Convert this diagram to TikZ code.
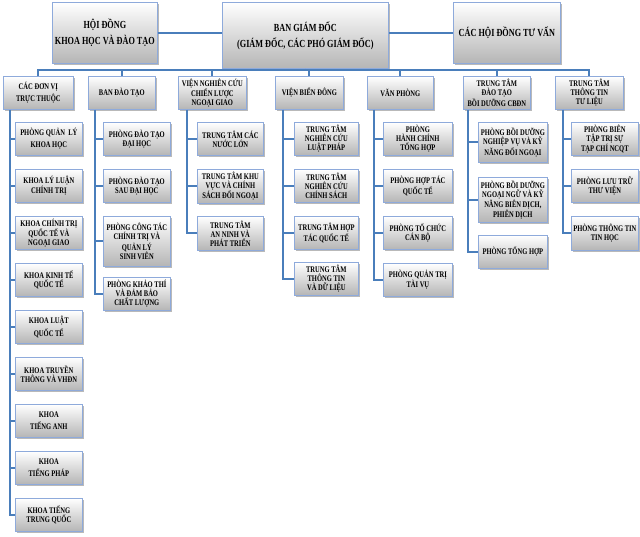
\documentclass[tikz,border=0pt]{standalone}
\usepackage{fontspec}
\newfontfamily\cond{Liberation Serif}[FakeStretch=0.76]
\usetikzlibrary{shadows}
\definecolor{conncol}{HTML}{4A7EBB}
\definecolor{bordcol}{HTML}{8EAADB}
\definecolor{boxbot}{HTML}{B5B5B5}
\tikzset{
  obox/.style={draw=bordcol, line width=0.7pt, top color=white, bottom color=boxbot,
    drop shadow={opacity=0.55, shadow xshift=1.6pt, shadow yshift=-1.6pt},
    align=center, anchor=north west, inner sep=0.5pt,
    font=\cond\bfseries\fontsize{8.6}{9}\selectfont},
  topf/.style={font=\cond\bfseries\fontsize{10.8}{16}\selectfont},
  wide/.style={font=\cond\bfseries\fontsize{8.6}{12.5}\selectfont},
  conn/.style={draw=conncol, line width=1.9pt},
}
\newcommand\obx[6][]{\node[obox,#1,minimum width=#4pt,minimum height=#5pt] (#2) at (#3) {#6};}
\begin{document}
\begin{tikzpicture}[x=1pt,y=-1pt]
\fill[white] (0,0) rectangle (640,536);
\useasboundingbox (0,0) rectangle (640,536);
% top row
\obx[topf]{hd}{52,2}{105}{61}{HỘI ĐỒNG\\KHOA HỌC VÀ ĐÀO TẠO}
\obx[topf]{bgd}{222,2}{166}{66}{BAN GIÁM ĐỐC\\(GIÁM ĐỐC, CÁC PHÓ GIÁM ĐỐC)}
\obx[topf]{tv}{453,2}{107}{61}{CÁC HỘI ĐỒNG TƯ VẤN}
% second row
\obx[wide]{p1}{3,76}{70}{33}{CÁC ĐƠN VỊ\\TRỰC THUỘC}
\obx{p2}{88,76}{67}{33}{BAN ĐÀO TẠO}
\obx{p3}{178,76}{68}{33}{VIỆN NGHIÊN CỨU\\CHIẾN LƯỢC\\NGOẠI GIAO}
\obx{p4}{275,76}{68}{33}{VIỆN BIỂN ĐÔNG}
\obx{p5}{367,76}{66}{33}{VĂN PHÒNG}
\obx{p6}{463,76}{67}{33}{TRUNG TÂM\\ĐÀO TẠO\\BỒI DƯỠNG CBĐN}
\obx{p7}{555,76}{68}{33}{TRUNG TÂM\\THÔNG TIN\\TƯ LIỆU}
% column 1
\obx[wide]{a1}{15,122}{67}{33}{PHÒNG QUẢN\ \ LÝ\\KHOA HỌC}
\obx{a2}{15,169}{67}{33}{KHOA LÝ LUẬN\\CHÍNH TRỊ}
\obx{a3}{15,216}{67}{33}{KHOA CHÍNH TRỊ\\QUỐC TẾ VÀ\\NGOẠI GIAO}
\obx{a4}{15,263}{67}{33}{KHOA KINH TẾ\\QUỐC TẾ}
\obx[wide]{a5}{15,310}{67}{33}{KHOA LUẬT\\QUỐC TẾ}
\obx{a6}{15,357}{67}{33}{KHOA TRUYỀN\\THÔNG VÀ VHĐN}
\obx[wide]{a7}{15,404}{67}{33}{KHOA\\TIẾNG ANH}
\obx[wide]{a8}{15,451}{67}{33}{KHOA\\TIẾNG PHÁP}
\obx{a9}{15,498}{67}{33}{KHOA TIẾNG\\TRUNG QUỐC}
% column 2
\obx{b1}{103,122}{67}{33}{PHÒNG ĐÀO TẠO\\ĐẠI HỌC}
\obx{b2}{103,169}{67}{33}{PHÒNG ĐÀO TẠO\\SAU ĐẠI HỌC}
\obx{b3}{103,216}{67}{50}{PHÒNG CÔNG TÁC\\CHÍNH TRỊ VÀ\\QUẢN LÝ\\SINH VIÊN}
\obx{b4}{103,277}{67}{33}{PHÒNG KHẢO THÍ\\VÀ ĐẢM BẢO\\CHẤT LƯỢNG}
% column 3
\obx{c1}{197,122}{66}{33}{TRUNG TÂM CÁC\\NƯỚC LỚN}
\obx{c2}{197,169}{66}{34}{TRUNG TÂM KHU\\VỰC VÀ CHÍNH\\SÁCH ĐỐI NGOẠI}
\obx{c3}{197,216}{66}{34}{TRUNG TÂM\\AN NINH VÀ\\PHÁT TRIỂN}
% column 4
\obx{d1}{294,122}{64}{33}{TRUNG TÂM\\NGHIÊN CỨU\\LUẬT PHÁP}
\obx{d2}{294,169}{64}{33}{TRUNG TÂM\\NGHIÊN CỨU\\CHÍNH SÁCH}
\obx{d3}{294,216}{64}{33}{TRUNG TÂM HỢP\\TÁC QUỐC TẾ}
\obx{d4}{294,262}{64}{33}{TRUNG TÂM\\THÔNG TIN\\VÀ DỮ LIỆU}
% column 5
\obx{e1}{383,122}{69}{33}{PHÒNG\\HÀNH CHÍNH\\TỔNG HỢP}
\obx{e2}{383,169}{69}{33}{PHÒNG HỢP TÁC\\QUỐC TẾ}
\obx{e3}{383,216}{69}{33}{PHÒNG TỔ CHỨC\\CÁN BỘ}
\obx{e4}{383,263}{69}{33}{PHÒNG QUẢN TRỊ\\TÀI VỤ}
% column 6
\obx{f1}{478,122}{69}{40}{PHÒNG BỒI DƯỠNG\\NGHIỆP VỤ VÀ KỸ\\NĂNG ĐỐI NGOẠI}
\obx{f2}{478,177}{69}{45}{PHÒNG BỒI DƯỠNG\\NGOẠI NGỮ VÀ KỸ\\NĂNG BIÊN DỊCH,\\PHIÊN DỊCH}
\obx{f3}{478,235}{69}{33}{PHÒNG TỔNG HỢP}
% column 7
\obx{g1}{571,122}{67}{33}{PHÒNG BIÊN\\TẬP TRỊ SỰ\\TẠP CHÍ NCQT}
\obx{g2}{571,169}{67}{33}{PHÒNG LƯU TRỮ\\THƯ VIỆN}
\obx{g3}{571,216}{67}{34}{PHÒNG THÔNG TIN\\TIN HỌC}
% connectors top
\draw[conn] (hd.east) -- (hd.east -| bgd.west);
\draw[conn] (tv.west) -- (tv.west -| bgd.east);
\coordinate (busy) at (0,70);
\draw[conn] (bgd.south) -- (bgd.south |- busy);
\draw[conn] (p1.north) -- (p1.north |- busy) -- (p7.north |- busy) -- (p7.north);
\foreach \p in {p2,p3,p4,p5,p6} \draw[conn] (\p.north) -- (\p.north |- busy);
% column connectors
\coordinate (v1) at (10,0);
\coordinate (v2) at (95,0);
\coordinate (v3) at (187,0);
\coordinate (v4) at (283,0);
\coordinate (v5) at (374,0);
\coordinate (v6) at (468,0);
\coordinate (v7) at (563,0);
\draw[conn] (p1.south -| v1) -- (a9.west -| v1) -- (a9.west);
\foreach \c in {a1,a2,a3,a4,a5,a6,a7,a8} \draw[conn] (\c.west -| v1) -- (\c.west);
\draw[conn] (p2.south -| v2) -- (b4.west -| v2) -- (b4.west);
\foreach \c in {b1,b2,b3} \draw[conn] (\c.west -| v2) -- (\c.west);
\draw[conn] (p3.south -| v3) -- (c3.west -| v3) -- (c3.west);
\foreach \c in {c1,c2} \draw[conn] (\c.west -| v3) -- (\c.west);
\draw[conn] (p4.south -| v4) -- (d4.west -| v4) -- (d4.west);
\foreach \c in {d1,d2,d3} \draw[conn] (\c.west -| v4) -- (\c.west);
\draw[conn] (p5.south -| v5) -- (e4.west -| v5) -- (e4.west);
\foreach \c in {e1,e2,e3} \draw[conn] (\c.west -| v5) -- (\c.west);
\draw[conn] (p6.south -| v6) -- (f3.west -| v6) -- (f3.west);
\foreach \c in {f1,f2} \draw[conn] (\c.west -| v6) -- (\c.west);
\draw[conn] (p7.south -| v7) -- (g3.west -| v7) -- (g3.west);
\foreach \c in {g1,g2} \draw[conn] (\c.west -| v7) -- (\c.west);
\end{tikzpicture}
\end{document}
